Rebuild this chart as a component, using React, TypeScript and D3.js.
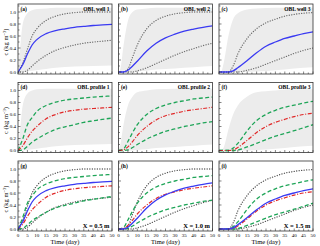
import React from "react";
import * as d3 from "d3";

const T = [0, 2.5, 5, 7.5, 10, 15, 20, 25, 30, 35, 40, 45, 50];
const ENV_T = [0, 1, 2.5, 5, 7.5, 10, 15, 20, 30, 40, 50];

// Wells (blue mean, dotted bounds)
const WELL1_MEAN = [0, 0.12, 0.3, 0.45, 0.54, 0.64, 0.69, 0.72, 0.745, 0.76, 0.775, 0.785, 0.795];
const WELL1_UP = [0, 0.15, 0.38, 0.6, 0.72, 0.86, 0.93, 0.97, 0.99, 1.0, 1.0, 1.0, 1.0];
const WELL1_LO = [0, 0, 0.03, 0.1, 0.17, 0.28, 0.36, 0.41, 0.45, 0.48, 0.5, 0.515, 0.53];
const WELL2_MEAN = [0, 0, 0.03, 0.1, 0.18, 0.35, 0.48, 0.57, 0.63, 0.68, 0.715, 0.745, 0.77];
const WELL2_UP = [0, 0, 0.05, 0.25, 0.45, 0.72, 0.86, 0.93, 0.97, 0.99, 1.0, 1.0, 1.0];
const WELL2_LO = [0, 0, 0, 0, 0.02, 0.07, 0.14, 0.21, 0.28, 0.34, 0.39, 0.44, 0.48];
const WELL3_MEAN = [0, 0, 0, 0.02, 0.07, 0.19, 0.32, 0.43, 0.5, 0.56, 0.6, 0.64, 0.67];
const WELL3_UP = [0, 0, 0, 0.1, 0.3, 0.56, 0.72, 0.82, 0.88, 0.93, 0.96, 0.98, 0.99];
const WELL3_LO = [0, 0, 0, 0, 0, 0.03, 0.07, 0.13, 0.19, 0.25, 0.31, 0.36, 0.4];

// Profiles (red mean, green dashed bounds)
const PROF1_MEAN = [0, 0.08, 0.21, 0.32, 0.4, 0.53, 0.6, 0.645, 0.67, 0.69, 0.7, 0.71, 0.72];
const PROF1_UP = [0, 0.19, 0.43, 0.55, 0.65, 0.75, 0.805, 0.84, 0.86, 0.875, 0.89, 0.9, 0.91];
const PROF1_LO = [0, 0.01, 0.07, 0.14, 0.19, 0.28, 0.35, 0.395, 0.43, 0.47, 0.495, 0.52, 0.54];
const PROF2_MEAN = [0, 0.01, 0.06, 0.15, 0.25, 0.4, 0.51, 0.58, 0.62, 0.655, 0.68, 0.7, 0.72];
const PROF2_UP = [0, 0.02, 0.15, 0.3, 0.43, 0.6, 0.7, 0.76, 0.8, 0.83, 0.86, 0.875, 0.89];
const PROF2_LO = [0, 0, 0.01, 0.05, 0.1, 0.19, 0.26, 0.32, 0.36, 0.4, 0.43, 0.46, 0.48];
const PROF3_MEAN = [0, 0, 0, 0.01, 0.05, 0.17, 0.3, 0.4, 0.47, 0.52, 0.565, 0.6, 0.62];
const PROF3_UP = [0, 0, 0, 0.04, 0.12, 0.33, 0.5, 0.6, 0.67, 0.72, 0.755, 0.79, 0.82];
const PROF3_LO = [0, 0, 0, 0, 0.01, 0.06, 0.12, 0.18, 0.24, 0.285, 0.33, 0.38, 0.43];

// Ensemble envelopes (light gray band)
const ENV1_UP = [0, 0.35, 0.8, 0.98, 1.03, 1.05, 1.06, 1.07, 1.07, 1.07, 1.07];
const ENV1_LO = [0, 0, 0, 0.01, 0.02, 0.03, 0.05, 0.07, 0.09, 0.1, 0.11];
const ENV2_UP = [0, 0.05, 0.4, 0.85, 1.0, 1.04, 1.06, 1.07, 1.07, 1.07, 1.07];
const ENV2_LO = [0, 0, 0, 0, 0, 0.01, 0.02, 0.04, 0.06, 0.08, 0.1];
const ENV3_UP = [0, 0, 0.15, 0.6, 0.88, 0.98, 1.04, 1.06, 1.07, 1.07, 1.07];
const ENV3_LO = [0, 0, 0, 0, 0, 0, 0, 0.01, 0.03, 0.06, 0.08];
const ENV4_UP = [0, 0.3, 0.75, 0.95, 1.0, 1.02, 1.03, 1.03, 1.03, 1.03, 1.03];
const ENV4_LO = [0, 0, 0, 0.01, 0.02, 0.03, 0.05, 0.07, 0.09, 0.1, 0.11];
const ENV5_UP = [0, 0.1, 0.4, 0.75, 0.9, 0.97, 1.0, 1.02, 1.03, 1.03, 1.03];
const ENV5_LO = [0, 0, 0, 0, 0, 0.01, 0.02, 0.04, 0.06, 0.08, 0.1];
const ENV6_UP = [0, 0, 0.05, 0.35, 0.6, 0.75, 0.9, 0.97, 1.0, 1.02, 1.02];
const ENV6_LO = [0, 0, 0, 0, 0, 0, 0, 0.01, 0.03, 0.06, 0.08];

const X_TICKS = [0, 5, 10, 15, 20, 25, 30, 35, 40, 45, 50];
const Y_TICKS = [0, 0.2, 0.4, 0.6, 0.8, 1.0];

const PANEL_LABELS = ["(a)", "(b)", "(c)", "(d)", "(e)", "(f)", "(g)", "(h)", "(i)"];
const ROW1_TITLES = ["OBL well 1", "OBL well 2", "OBL well 3"];
const ROW2_TITLES = ["OBL profile 1", "OBL profile 2", "OBL profile 3"];
const ROW3_TITLES = ["X = 0.5 m", "X = 1.0 m", "X = 1.5 m"];

const WELLS = [
  { mean: WELL1_MEAN, up: WELL1_UP, lo: WELL1_LO, envUp: ENV1_UP, envLo: ENV1_LO },
  { mean: WELL2_MEAN, up: WELL2_UP, lo: WELL2_LO, envUp: ENV2_UP, envLo: ENV2_LO },
  { mean: WELL3_MEAN, up: WELL3_UP, lo: WELL3_LO, envUp: ENV3_UP, envLo: ENV3_LO },
];
const PROFS = [
  { mean: PROF1_MEAN, up: PROF1_UP, lo: PROF1_LO, envUp: ENV4_UP, envLo: ENV4_LO },
  { mean: PROF2_MEAN, up: PROF2_UP, lo: PROF2_LO, envUp: ENV5_UP, envLo: ENV5_LO },
  { mean: PROF3_MEAN, up: PROF3_UP, lo: PROF3_LO, envUp: ENV6_UP, envLo: ENV6_LO },
];

const COL_X = [18, 118.5, 219];
const ROW_Y = [4, 82.5, 161];
const PW = 94;
const PH = 70;

const BLUE = "#3a3af2";
const RED = "#e02828";
const GREEN = "#1fa558";
const FONT = "'Liberation Serif', 'DejaVu Serif', serif";

type PanelProps = { col: number; row: number };

function Panel({ col, row }: PanelProps) {
  const x0 = COL_X[col];
  const y0 = ROW_Y[row];
  const x = d3.scaleLinear().domain([0, 50]).range([x0, x0 + PW]);
  const y = d3.scaleLinear().domain([-0.033, 1.133]).range([y0 + PH, y0]);
  const line = (vals: number[], ts: number[] = T) =>
    d3
      .line<number>()
      .x((_, i) => x(ts[i]))
      .y((v) => y(v))
      .curve(d3.curveMonotoneX)(vals) || "";
  const area = (up: number[], lo: number[]) =>
    d3
      .area<number>()
      .x((_, i) => x(ENV_T[i]))
      .y0((_, i) => y(lo[i]))
      .y1((v) => y(v))
      .curve(d3.curveMonotoneX)(up) || "";

  const clipId = `clip-${row}-${col}`;
  const w = WELLS[col];
  const p = PROFS[col];
  const xMinor = d3.range(0, 50.01, 2.5);
  const yMinor = d3.range(0, 1.101, 0.1);

  const dotted = { strokeDasharray: "0.1,2.4", strokeLinecap: "round" as const, strokeWidth: 1.3 };
  const dashed = { strokeDasharray: "4,2.4", strokeWidth: 1.3 };
  const dashDot = { strokeDasharray: "4,1.6,1,1.6", strokeWidth: 1.2 };

  let title = "";
  if (row === 0) title = ROW1_TITLES[col];
  else if (row === 1) title = ROW2_TITLES[col];

  return (
    <g>
      <defs>
        <clipPath id={clipId}>
          <rect x={x0} y={y0} width={PW} height={PH} />
        </clipPath>
      </defs>
      <rect x={x0} y={y0} width={PW} height={PH} fill="#fff" />
      <g clipPath={`url(#${clipId})`}>
        {row === 0 && (
          <>
            <path d={area(w.envUp, w.envLo)} fill="#ececec" />
            <path d={line(w.up)} fill="none" stroke="#6e6e6e" {...dotted} />
            <path d={line(w.lo)} fill="none" stroke="#6e6e6e" {...dotted} />
            <path d={line(w.mean)} fill="none" stroke={BLUE} strokeWidth={1.3} />
          </>
        )}
        {row === 1 && (
          <>
            <path d={area(p.envUp, p.envLo)} fill="#ececec" />
            <path d={line(p.up)} fill="none" stroke={GREEN} {...dashed} />
            <path d={line(p.lo)} fill="none" stroke={GREEN} {...dashed} />
            <path d={line(p.mean)} fill="none" stroke={RED} {...dashDot} />
          </>
        )}
        {row === 2 && (
          <>
            <path d={line(w.up)} fill="none" stroke="#555" {...dotted} />
            <path d={line(w.lo)} fill="none" stroke="#555" {...dotted} />
            <path d={line(p.up)} fill="none" stroke={GREEN} {...dashed} />
            <path d={line(p.lo)} fill="none" stroke={GREEN} {...dashed} />
            <path d={line(p.mean)} fill="none" stroke={RED} {...dashDot} />
            <path d={line(w.mean)} fill="none" stroke={BLUE} strokeWidth={1.3} />
          </>
        )}
      </g>
      {/* ticks */}
      {xMinor.map((t, i) => {
        const major = i % 2 === 0;
        const L = major ? 2.5 : 1.5;
        return (
          <line key={`xt${i}`} x1={x(t)} x2={x(t)} y1={y0 + PH} y2={y0 + PH - L} stroke="#333" strokeWidth={0.6} />
        );
      })}
      {yMinor.map((v, i) => {
        const major = i % 2 === 0;
        const L = major ? 2.5 : 1.5;
        return <line key={`yt${i}`} x1={x0} x2={x0 + L} y1={y(v)} y2={y(v)} stroke="#333" strokeWidth={0.6} />;
      })}
      <rect x={x0} y={y0} width={PW} height={PH} fill="none" stroke="#333" strokeWidth={0.8} />
      {/* labels */}
      {col === 0 &&
        Y_TICKS.map((v) => (
          <text key={`yl${v}`} x={x0 - 2} y={y(v) + 1.7} fontSize={5} textAnchor="end" fontFamily={FONT}>
            {v.toFixed(1)}
          </text>
        ))}
      {col === 0 && (
        <text
          transform={`translate(${7.5},${y(0.5)}) rotate(-90)`}
          fontSize={6.5}
          textAnchor="middle"
          fontFamily={FONT}
        >
          c (kg m
          <tspan dy={-2} fontSize={4.5}>
            −3
          </tspan>
          <tspan dy={2}>)</tspan>
        </text>
      )}
      {row === 2 &&
        X_TICKS.map((t) => (
          <text key={`xl${t}`} x={x(t)} y={y0 + PH + 5.5} fontSize={5} textAnchor="middle" fontFamily={FONT}>
            {t}
          </text>
        ))}
      {row === 2 && (
        <text x={x0 + PW / 2} y={y0 + PH + 12.5} fontSize={6.5} textAnchor="middle" fontFamily={FONT}>
          Time (day)
        </text>
      )}
      <text x={x0 + 2.5} y={y0 + 6.5} fontSize={5.5} fontWeight="bold" fontFamily={FONT}>
        {PANEL_LABELS[row * 3 + col]}
      </text>
      {row < 2 && (
        <text x={x0 + PW - 2.5} y={y0 + 6.5} fontSize={5.5} fontWeight="bold" textAnchor="end" fontFamily={FONT}>
          {title}
        </text>
      )}
      {row === 2 && (
        <text x={x0 + PW - 2.5} y={y0 + PH - 3} fontSize={6.5} fontWeight="bold" textAnchor="end" fontFamily={FONT}>
          {ROW3_TITLES[col]}
        </text>
      )}
    </g>
  );
}

export default function App() {
  return (
    <svg
      width={320}
      height={246}
      viewBox="0 0 320 246"
      style={{ position: "absolute", left: 0, top: 0, background: "#fff" }}
    >
      {[0, 1, 2].map((row) =>
        [0, 1, 2].map((col) => <Panel key={`${row}-${col}`} row={row} col={col} />)
      )}
    </svg>
  );
}
